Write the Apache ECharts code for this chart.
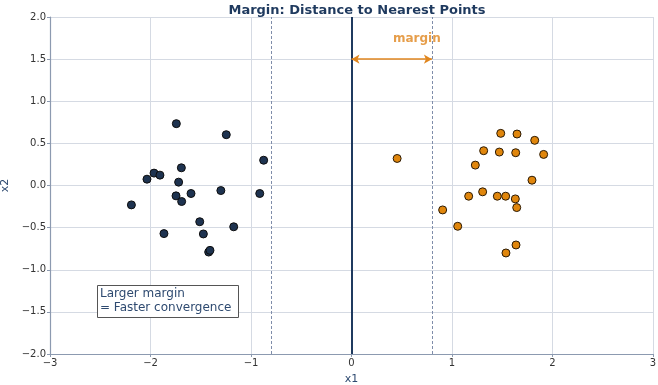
<!DOCTYPE html>
<html><head><meta charset="utf-8">
<script src="https://cdn.jsdelivr.net/npm/echarts@6/dist/echarts.min.js"></script>
<style>html,body{margin:0;padding:0;background:#fff}#c{width:658px;height:385px}</style>
</head><body><div id="c"></div>
<script>
const classNeg = [[-2.19,-0.23],[-2.035,0.075],[-1.965,0.147],[-1.906,0.123],[-1.866,-0.571],[-1.743,0.734],[-1.72,0.04],[-1.746,-0.123],[-1.693,0.21],[-1.69,-0.19],[-1.597,-0.095],[-1.51,-0.43],[-1.474,-0.575],[-1.421,-0.79],[-1.408,-0.77],[-1.30,-0.06],[-1.246,0.603],[-1.172,-0.49],[-0.913,-0.095],[-0.874,0.30]];
const classPos = [[1.485,0.619],[1.647,0.611],[1.823,0.536],[1.315,0.413],[1.471,0.397],[1.634,0.389],[1.912,0.369],[1.232,0.242],[1.796,0.063],[1.305,-0.075],[1.166,-0.127],[1.451,-0.127],[1.534,-0.127],[1.63,-0.159],[1.644,-0.262],[0.907,-0.29],[1.057,-0.484],[1.637,-0.706],[1.537,-0.801],[0.454,0.321]];
const boundaryX = 0;
const marginX = [-0.8, 0.8];
const arrowY = 1.5;
const marginLabel = 'margin';
const marginLabelPos = [0.65, 1.74];
const noteText = 'Larger margin\n= Faster convergence';
const titleText = 'Margin: Distance to Nearest Points';

const chart = echarts.init(document.getElementById('c'), null, {renderer:'canvas'});
const fmt = v => (v<0?'\u2212':'') + Math.abs(v);
const fmtY = v => (v<0?'\u2212':'') + Math.abs(v).toFixed(1);
const font = 'DejaVu Sans';
chart.setOption({
  animation:false,
  textStyle:{fontFamily:font},
  title:{text:titleText,left:352,top:-1,textAlign:'center',textStyle:{fontFamily:font,fontSize:13,fontWeight:'bold',color:'#1f3a5f'}},
  grid:{left:50,right:5,top:17,bottom:31,containLabel:false,outerBoundsMode:'none'},
  xAxis:{type:'value',min:-3,max:3,interval:1,name:'x1',nameLocation:'middle',nameGap:20,
    nameTextStyle:{color:'#2e4a70',fontSize:11,fontFamily:font},
    axisLine:{show:true,onZero:false,lineStyle:{color:'#8c9ab0',width:1.2}},
    axisTick:{show:true,length:3,lineStyle:{color:'#8c9ab0'}},
    axisLabel:{formatter:fmt,color:'#333',fontSize:10,margin:4,fontFamily:font},
    splitLine:{show:true,lineStyle:{color:'#d5dae3',width:1}}},
  yAxis:{type:'value',min:-2,max:2,interval:0.5,name:'x2',nameLocation:'middle',nameGap:36,
    nameTextStyle:{color:'#2e4a70',fontSize:11,fontFamily:font},
    axisLine:{show:true,onZero:false,lineStyle:{color:'#8c9ab0',width:1.2}},
    axisTick:{show:true,length:3,lineStyle:{color:'#8c9ab0'}},
    axisLabel:{formatter:fmtY,color:'#333',fontSize:10,margin:4,fontFamily:font},
    splitLine:{show:true,lineStyle:{color:'#d5dae3',width:1}}},
  series:[
    {type:'scatter',data:[],silent:true,
      markLine:{silent:true,symbol:['none','none'],label:{show:false},animation:false,
        data:[
          {xAxis:boundaryX,lineStyle:{color:'#1f3a5f',width:2,type:'solid'}},
          {xAxis:marginX[0],lineStyle:{color:'#7f8daa',width:1,type:[3,2]}},
          {xAxis:marginX[1],lineStyle:{color:'#7f8daa',width:1,type:[3,2]}}
        ]}},
    {type:'scatter',data:[],silent:true,
      markLine:{silent:true,symbol:['arrow','arrow'],symbolSize:[7,8],label:{show:false},animation:false,
        lineStyle:{color:'#e0861e',width:1.6,type:'solid'},
        data:[[{coord:[boundaryX,arrowY]},{coord:[marginX[1],arrowY]}]]}},
    {type:'scatter',data:classNeg,symbolSize:8,z:5,
      itemStyle:{color:'#1e3350',borderColor:'#0d0d0d',borderWidth:1,opacity:1}},
    {type:'scatter',data:classPos,symbolSize:8,z:5,
      itemStyle:{color:'#e0860c',borderColor:'#2a1a05',borderWidth:1,opacity:1}},
    {type:'scatter',data:[marginLabelPos],symbolSize:0,silent:true,z:6,
      label:{show:true,position:'inside',formatter:marginLabel,color:'#e0861e',fontWeight:'bold',fontSize:12,fontFamily:font}}
  ],
  graphic:[
    {type:'rect',left:97,top:285,shape:{width:141,height:32},style:{fill:'#fff',stroke:'#555',lineWidth:1},z:10},
    {type:'text',left:100,top:287,style:{text:noteText,fill:'#2e4a70',font:'12px "DejaVu Sans"',lineHeight:14},z:11}
  ]
});
</script></body></html>
